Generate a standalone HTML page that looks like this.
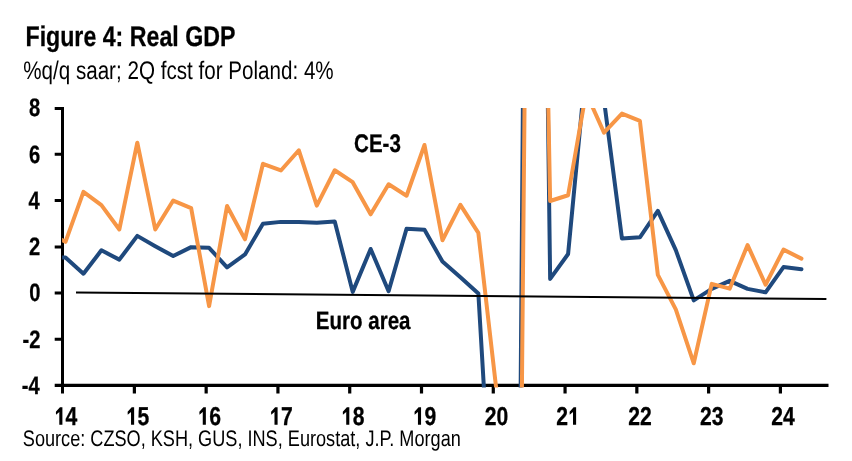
<!DOCTYPE html>
<html><head><meta charset="utf-8"><style>
html,body{margin:0;padding:0;background:#fff;}
svg{display:block;}
svg{will-change:transform;}
text{text-rendering:geometricPrecision;}
text[font-weight="bold"]{stroke:#000;stroke-width:0.3px;}
tspan.h{fill:none;stroke:none;}
text{font-family:"Liberation Sans",sans-serif;fill:#000;}
</style></head><body>
<svg width="852" height="461" viewBox="0 0 852 461">
<defs><clipPath id="pc"><rect x="62.1" y="108" width="789.9" height="279.5"/></clipPath></defs>
<g fill="#000">
<path d="M61.00 106.90h3.00v286.60h-3.00zM54.70 106.90h9.30v3.00h-9.30zM54.70 152.85h9.30v3.00h-9.30zM54.70 198.90h9.30v3.00h-9.30zM54.70 245.60h9.30v3.00h-9.30zM54.70 291.55h9.30v3.00h-9.30zM54.70 337.70h9.30v3.00h-9.30zM54.70 383.80h773.80v3.20h-773.80zM132.78 383.80h3.20v9.70h-3.20zM204.56 383.80h3.20v9.70h-3.20zM276.34 383.80h3.20v9.70h-3.20zM348.12 383.80h3.20v9.70h-3.20zM419.90 383.80h3.20v9.70h-3.20zM491.68 383.80h3.20v9.70h-3.20zM563.46 383.80h3.20v9.70h-3.20zM635.24 383.80h3.20v9.70h-3.20zM707.02 383.80h3.20v9.70h-3.20zM778.80 383.80h3.20v9.70h-3.20z"/>
</g>
<g clip-path="url(#pc)" fill="none" stroke-width="4" stroke-linejoin="round" stroke-linecap="round">
<polyline stroke="#1F497D" points="47.55,257.46 65.50,257.46 83.45,273.75 101.40,250.34 119.35,259.64 137.30,235.88 155.25,246.21 173.20,256.08 191.15,247.13 209.10,247.82 227.05,267.33 245.00,254.47 262.95,223.72 280.90,221.88 298.85,222.11 316.80,222.80 334.75,221.43 352.70,291.88 370.65,248.97 388.60,291.19 406.55,228.77 424.50,229.69 442.45,261.59 460.40,277.19 478.35,293.49 496.30,598.04 514.25,1199.33 532.20,-1075.02 550.15,278.92 568.10,254.01 586.05,65.59 604.00,100.02 621.95,238.41 639.90,237.26 657.85,210.87 675.80,250.11 693.75,300.37 711.70,288.90 729.65,280.87 747.60,288.90 765.55,292.34 783.50,267.10 801.45,269.16"/>
<polyline stroke="#F79646" points="47.55,232.44 65.50,241.85 83.45,191.82 101.40,205.13 119.35,229.46 137.30,142.71 155.25,229.46 173.20,200.54 191.15,208.11 209.10,306.11 227.05,206.05 245.00,239.33 262.95,163.82 280.90,170.48 298.85,150.28 316.80,205.59 334.75,170.25 352.70,182.18 370.65,214.31 388.60,184.25 406.55,195.72 424.50,145.00 442.45,240.24 460.40,204.90 478.35,232.90 496.30,389.19 514.25,1210.80 532.20,-717.00 550.15,201.00 568.10,195.26 586.05,92.68 604.00,132.61 621.95,113.56 639.90,120.90 657.85,274.90 675.80,309.32 693.75,363.26 711.70,283.85 729.65,288.67 747.60,245.06 765.55,284.77 783.50,249.65 801.45,258.60"/>
</g>
<line x1="76" y1="292.4" x2="826.4" y2="299.1" stroke="#000" stroke-width="2"/>
<text x="25.48" y="45.70" font-size="28.40" font-weight="bold" textLength="209.89" lengthAdjust="spacingAndGlyphs">Figure 4: Real GDP</text>
<text x="23.18" y="78.90" font-size="25.40" font-weight="normal" textLength="310.51" lengthAdjust="spacingAndGlyphs">%q/q saar; 2Q fcst for Poland: 4%</text>
<text x="22.79" y="445.60" font-size="22.50" font-weight="normal" textLength="438.02" lengthAdjust="spacingAndGlyphs">Source: CZSO, KSH, GUS, INS, Eurostat, J.P. Morgan</text>
<text x="354.08" y="151.70" font-size="25.40" font-weight="bold" textLength="46.81" lengthAdjust="spacingAndGlyphs">CE-3</text>
<text x="315.86" y="328.60" font-size="25.00" font-weight="bold" textLength="94.60" lengthAdjust="spacingAndGlyphs">Euro area</text>
<text x="28.92" y="116.29" font-size="25.20" font-weight="bold" textLength="11.21" lengthAdjust="spacingAndGlyphs">8</text>
<text x="29.12" y="162.64" font-size="25.20" font-weight="bold" textLength="11.21" lengthAdjust="spacingAndGlyphs">6</text>
<text x="28.51" y="208.69" font-size="25.20" font-weight="bold" textLength="11.21" lengthAdjust="spacingAndGlyphs">4</text>
<text x="29.12" y="254.52" font-size="25.20" font-weight="bold" textLength="11.21" lengthAdjust="spacingAndGlyphs">2</text>
<text x="29.32" y="301.34" font-size="25.20" font-weight="bold" textLength="11.21" lengthAdjust="spacingAndGlyphs">0</text>
<text x="22.46" y="347.62" font-size="25.20" font-weight="bold" textLength="17.93" lengthAdjust="spacingAndGlyphs">-2</text>
<text x="21.86" y="393.99" font-size="25.20" font-weight="bold" textLength="17.93" lengthAdjust="spacingAndGlyphs">-4</text>
<text x="53.62" y="424.90" font-size="25.80" font-weight="bold" textLength="23.53" lengthAdjust="spacingAndGlyphs"><tspan class="h">1</tspan>4</text>
<text x="125.67" y="424.90" font-size="25.80" font-weight="bold" textLength="23.53" lengthAdjust="spacingAndGlyphs"><tspan class="h">1</tspan>5</text>
<text x="197.51" y="425.16" font-size="25.80" font-weight="bold" textLength="23.53" lengthAdjust="spacingAndGlyphs"><tspan class="h">1</tspan>6</text>
<text x="269.24" y="424.90" font-size="25.80" font-weight="bold" textLength="23.53" lengthAdjust="spacingAndGlyphs"><tspan class="h">1</tspan>7</text>
<text x="340.86" y="425.16" font-size="25.80" font-weight="bold" textLength="23.53" lengthAdjust="spacingAndGlyphs"><tspan class="h">1</tspan>8</text>
<text x="412.70" y="425.16" font-size="25.80" font-weight="bold" textLength="23.53" lengthAdjust="spacingAndGlyphs"><tspan class="h">1</tspan>9</text>
<text x="484.74" y="425.16" font-size="25.80" font-weight="bold" textLength="23.53" lengthAdjust="spacingAndGlyphs">20</text>
<text x="556.37" y="425.16" font-size="25.80" font-weight="bold" textLength="23.53" lengthAdjust="spacingAndGlyphs">2<tspan class="h">1</tspan></text>
<text x="628.20" y="425.16" font-size="25.80" font-weight="bold" textLength="23.53" lengthAdjust="spacingAndGlyphs">22</text>
<text x="699.93" y="425.16" font-size="25.80" font-weight="bold" textLength="23.53" lengthAdjust="spacingAndGlyphs">23</text>
<text x="771.24" y="425.16" font-size="25.80" font-weight="bold" textLength="23.53" lengthAdjust="spacingAndGlyphs">24</text>
<path d="M62.40 407.20 L62.40 424.80 L59.30 424.80 L59.30 411.90 L56.00 414.80 L55.90 411.80 L59.95 407.20Z M134.13 407.20 L134.13 424.80 L131.03 424.80 L131.03 411.90 L127.73 414.80 L127.63 411.80 L131.68 407.20Z M205.86 407.20 L205.86 424.80 L202.76 424.80 L202.76 411.90 L199.46 414.80 L199.36 411.80 L203.41 407.20Z M277.59 407.20 L277.59 424.80 L274.49 424.80 L274.49 411.90 L271.19 414.80 L271.09 411.80 L275.14 407.20Z M349.32 407.20 L349.32 424.80 L346.22 424.80 L346.22 411.90 L342.92 414.80 L342.82 411.80 L346.87 407.20Z M421.05 407.20 L421.05 424.80 L417.95 424.80 L417.95 411.90 L414.65 414.80 L414.55 411.80 L418.60 407.20Z M576.11 407.20 L576.11 424.80 L573.01 424.80 L573.01 411.90 L569.71 414.80 L569.61 411.80 L573.66 407.20Z"/>
</svg>
</body></html>
